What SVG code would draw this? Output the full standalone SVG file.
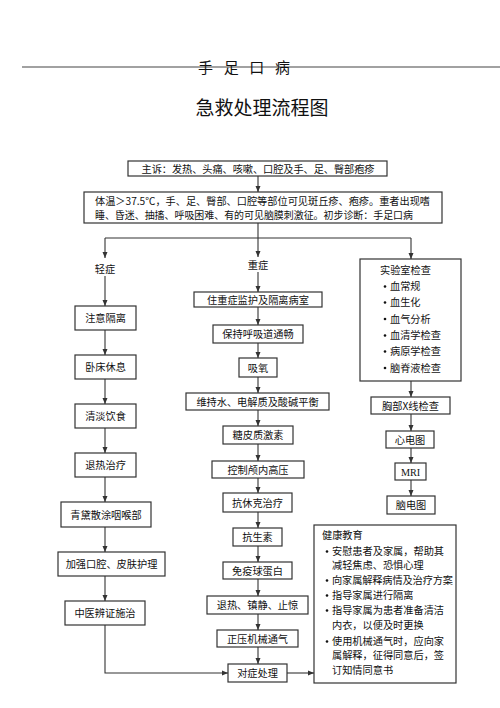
<svg xmlns="http://www.w3.org/2000/svg" width="500" height="708" viewBox="0 0 500 708">
<style>
text{font-family:"Noto Sans CJK SC","Liberation Serif",sans-serif;fill:#111;font-size:10.2px}
.c{text-anchor:middle}
.box rect{fill:#fff;stroke:#333;stroke-width:1.2}
.ln{fill:none;stroke:#333;stroke-width:1.1}
.dot{fill:#111}
</style>
<defs>
<marker id="ah" markerWidth="6" markerHeight="6" refX="6" refY="3" orient="auto" markerUnits="userSpaceOnUse">
<path d="M0,0.5 L6,3 L0,5.5 Z" fill="#333"/>
</marker>
</defs>
<rect width="500" height="708" fill="#fff"/>
<line x1="22" y1="67" x2="500" y2="67" stroke="#444" stroke-width="1.2"/>
<text x="244" y="73" class="c" style="font-size:15px" textLength="92" lengthAdjust="spacing">手 足 口 病</text>
<text x="262" y="115" class="c" style="font-size:19px">急救处理流程图</text>

<g id="connectors" class="ln">
<path d="M258,176 V192" marker-end="url(#ah)"/>
<path d="M258,223 V238 M105,238 H411"/>
<path d="M105,238 V258" marker-end="url(#ah)"/>
<path d="M105,276 V306" marker-end="url(#ah)"/>
<path d="M105,330 V355" marker-end="url(#ah)"/>
<path d="M105,379 V404" marker-end="url(#ah)"/>
<path d="M105,428 V453" marker-end="url(#ah)"/>
<path d="M105,477 V502" marker-end="url(#ah)"/>
<path d="M105,527 V552" marker-end="url(#ah)"/>
<path d="M105,576 V601" marker-end="url(#ah)"/>
<path d="M105,625 V673 H228" marker-end="url(#ah)"/>
<path d="M258,238 V257" marker-end="url(#ah)"/>
<path d="M258,272 V292" marker-end="url(#ah)"/>
<path d="M258,307 V325" marker-end="url(#ah)"/>
<path d="M258,343 V358" marker-end="url(#ah)"/>
<path d="M258,377 V393" marker-end="url(#ah)"/>
<path d="M258,410 V426" marker-end="url(#ah)"/>
<path d="M258,444 V461" marker-end="url(#ah)"/>
<path d="M258,478 V493" marker-end="url(#ah)"/>
<path d="M258,512 V528" marker-end="url(#ah)"/>
<path d="M258,546 V562" marker-end="url(#ah)"/>
<path d="M258,579 V596" marker-end="url(#ah)"/>
<path d="M258,614 V630" marker-end="url(#ah)"/>
<path d="M258,647 V664" marker-end="url(#ah)"/>
<path d="M287,673 H314" marker-end="url(#ah)"/>
<path d="M411,238 V259" marker-end="url(#ah)"/>
<path d="M411,381 V397" marker-end="url(#ah)"/>
<path d="M411,414 V431" marker-end="url(#ah)"/>
<path d="M411,448 V463" marker-end="url(#ah)"/>
<path d="M411,480 V496" marker-end="url(#ah)"/>
</g>

<g id="n-complaint" class="box"><rect x="128" y="161" width="259" height="15"/><text x="258" y="172.5" class="c" textLength="233">主诉：发热、头痛、咳嗽、口腔及手、足、臀部疱疹</text></g>
<g id="n-symptoms" class="box"><rect x="84" y="192" width="358" height="31"/>
<text x="95" y="205" textLength="335" lengthAdjust="spacingAndGlyphs">体温＞37.5℃，手、足、臀部、口腔等部位可见斑丘疹、疱疹。重者出现嗜</text>
<text x="95" y="219" textLength="318" lengthAdjust="spacingAndGlyphs">睡、昏迷、抽搐、呼吸困难、有的可见脑膜刺激征。初步诊断：手足口病</text></g>

<g id="n-mild"><text x="105" y="273" class="c">轻症</text></g>
<g id="n-m1" class="box"><rect x="75" y="306" width="61" height="24"/><text x="105.5" y="322" class="c">注意隔离</text></g>
<g id="n-m2" class="box"><rect x="75" y="355" width="61" height="24"/><text x="105.5" y="371" class="c">卧床休息</text></g>
<g id="n-m3" class="box"><rect x="75" y="404" width="61" height="24"/><text x="105.5" y="420" class="c">清淡饮食</text></g>
<g id="n-m4" class="box"><rect x="75" y="453" width="61" height="24"/><text x="105.5" y="469" class="c">退热治疗</text></g>
<g id="n-m5" class="box"><rect x="61" y="502" width="90" height="25"/><text x="106" y="518.5" class="c">青黛散涂咽喉部</text></g>
<g id="n-m6" class="box"><rect x="58" y="552" width="107" height="24"/><text x="111.5" y="568" class="c">加强口腔、皮肤护理</text></g>
<g id="n-m7" class="box"><rect x="65" y="601" width="80" height="24"/><text x="105" y="617" class="c">中医辨证施治</text></g>

<g id="n-severe"><text x="258" y="269" class="c">重症</text></g>
<g id="n-s1" class="box"><rect x="194" y="292" width="128" height="15"/><text x="258" y="303.5" class="c">住重症监护及隔离病室</text></g>
<g id="n-s2" class="box"><rect x="213" y="325" width="90" height="18"/><text x="258" y="338" class="c">保持呼吸道通畅</text></g>
<g id="n-s3" class="box"><rect x="239" y="358" width="38" height="19"/><text x="258" y="371.5" class="c">吸氧</text></g>
<g id="n-s4" class="box"><rect x="186" y="393" width="143" height="17"/><text x="257.5" y="405.5" class="c">维持水、电解质及酸碱平衡</text></g>
<g id="n-s5" class="box"><rect x="223" y="426" width="70" height="18"/><text x="258" y="439" class="c">糖皮质激素</text></g>
<g id="n-s6" class="box"><rect x="212" y="461" width="92" height="17"/><text x="258" y="473.5" class="c">控制颅内高压</text></g>
<g id="n-s7" class="box"><rect x="223" y="493" width="69" height="19"/><text x="257.5" y="506.5" class="c">抗休克治疗</text></g>
<g id="n-s8" class="box"><rect x="233" y="528" width="49" height="18"/><text x="257.5" y="541" class="c">抗生素</text></g>
<g id="n-s9" class="box"><rect x="223" y="562" width="69" height="17"/><text x="257.5" y="574.5" class="c">免疫球蛋白</text></g>
<g id="n-s10" class="box"><rect x="207" y="596" width="101" height="18"/><text x="257.5" y="609" class="c">退热、镇静、止惊</text></g>
<g id="n-s11" class="box"><rect x="217" y="630" width="81" height="17"/><text x="257.5" y="642.5" class="c">正压机械通气</text></g>
<g id="n-s12" class="box"><rect x="228" y="664" width="59" height="18"/><text x="257.5" y="677" class="c">对症处理</text></g>

<g id="n-lab" class="box"><rect x="360" y="259" width="101" height="122"/>
<text x="380" y="274">实验室检查</text>
<circle class="dot" cx="385" cy="286.5" r="1.3"/><text x="390" y="290">血常规</text>
<circle class="dot" cx="385" cy="302.5" r="1.3"/><text x="390" y="306">血生化</text>
<circle class="dot" cx="385" cy="319" r="1.3"/><text x="390" y="322.5">血气分析</text>
<circle class="dot" cx="385" cy="335.5" r="1.3"/><text x="390" y="339">血清学检查</text>
<circle class="dot" cx="385" cy="351.5" r="1.3"/><text x="390" y="355">病原学检查</text>
<circle class="dot" cx="385" cy="368" r="1.3"/><text x="390" y="371.5">脑脊液检查</text></g>
<g id="n-r1" class="box"><rect x="371" y="397" width="79" height="17"/><text x="410.5" y="409.5" class="c">胸部X线检查</text></g>
<g id="n-r2" class="box"><rect x="386" y="431" width="48" height="17"/><text x="410" y="443.5" class="c">心电图</text></g>
<g id="n-r3" class="box"><rect x="395" y="463" width="31" height="17"/><text x="410.5" y="475.5" class="c" style="font-family:'Liberation Serif',serif">MRI</text></g>
<g id="n-r4" class="box"><rect x="387" y="496" width="48" height="18"/><text x="411" y="509" class="c">脑电图</text></g>

<g id="n-edu" class="box"><rect x="314" y="525" width="142" height="158"/>
<text x="322" y="539">健康教育</text>
<circle class="dot" cx="327" cy="551.5" r="1.3"/><text x="332" y="555">安慰患者及家属，帮助其</text>
<text x="332" y="569">减轻焦虑、恐惧心理</text>
<circle class="dot" cx="327" cy="580.5" r="1.3"/><text x="332" y="584" textLength="121">向家属解释病情及治疗方案</text>
<circle class="dot" cx="327" cy="595.5" r="1.3"/><text x="332" y="599">指导家属进行隔离</text>
<circle class="dot" cx="327" cy="610.5" r="1.3"/><text x="332" y="614">指导家属为患者准备清洁</text>
<text x="332" y="629">内衣，以便及时更换</text>
<circle class="dot" cx="327" cy="641.5" r="1.3"/><text x="332" y="645">使用机械通气时，应向家</text>
<text x="332" y="659">属解释，征得同意后，签</text>
<text x="332" y="674">订知情同意书</text></g>
</svg>
